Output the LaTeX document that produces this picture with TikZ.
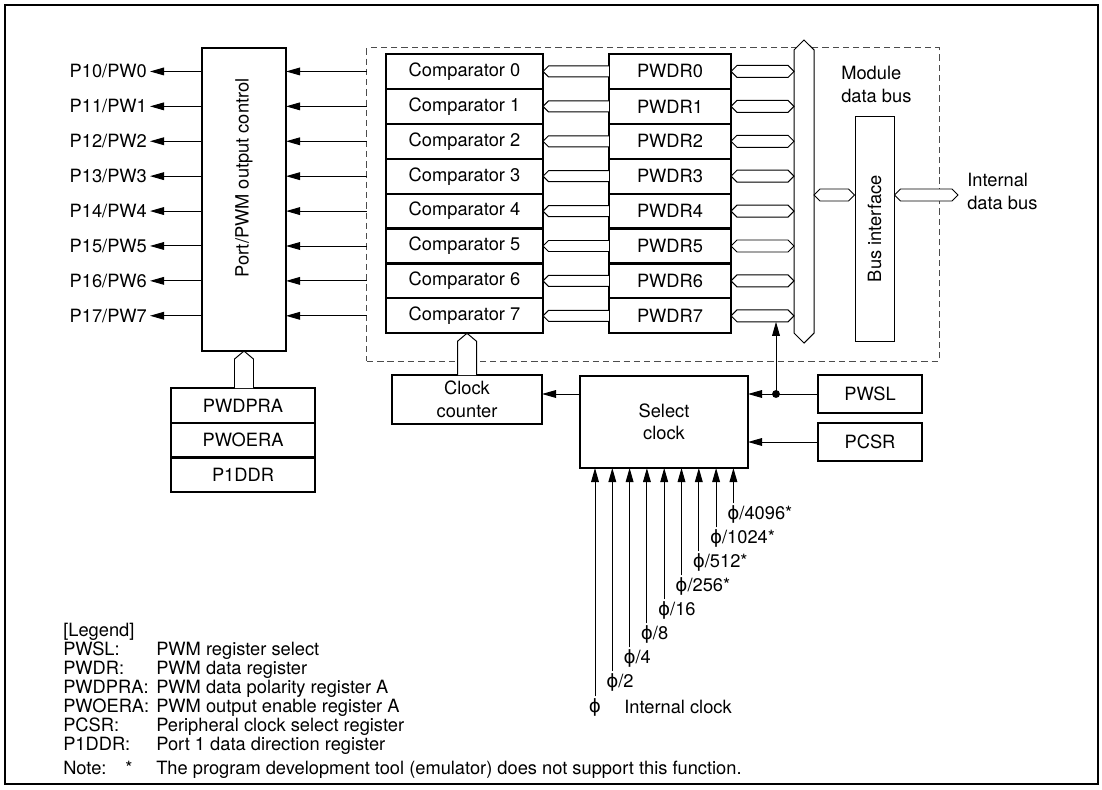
\documentclass[tikz,border=0pt]{standalone}
\usepackage{fontspec}
\setmainfont{TeX Gyre Heros}
\newfontfamily\phifont{DejaVu Sans}
\usepackage{tikz}
\usetikzlibrary{arrows.meta,positioning,calc}
\newcommand{\clkphi}{{\phifont\symbol{"03D5}}}

\begin{document}
\begin{tikzpicture}[x=0.025cm, y=-0.025cm, >={Triangle[length=10pt,width=5.5pt]},
  font=\fontsize{13}{16}\selectfont,
  block/.style={draw, line width=1.6pt, rectangle, inner sep=0pt, outer sep=0pt, align=center},
  cmp/.style={block, minimum width=3.925cm, minimum height=0.8725cm},
  reg/.style={block, minimum width=3.05cm, minimum height=0.8725cm},
  ctl/.style={block, minimum width=3.6cm, minimum height=0.8675cm},
  sel/.style={block, minimum width=2.6cm, minimum height=0.95cm},
  modbox/.style={draw=black!70, dash pattern=on 4.5pt off 2.8pt, line width=0.7pt, rectangle, inner sep=0pt, outer sep=0pt},
  pinlbl/.style={anchor=east, inner sep=2pt},
  clk/.style={inner sep=1pt},
  jdot/.style={circle, fill, inner sep=0pt, minimum size=5.6pt},
  line/.style={draw, ->, line width=0.7pt},
  bus/.style={draw, fill=white, line width=0.7pt},
  busleft/.style={bus, to path={($(\tikztotarget)+(0,-5.5)$) -- ($(\tikztostart)+(5.5,-5.5)$) -- (\tikztostart) -- ($(\tikztostart)+(5.5,5.5)$) -- ($(\tikztotarget)+(0,5.5)$)}},
  busboth/.style={bus, to path={-- ($(\tikztostart)+(6,-6)$) -- ($(\tikztotarget)+(-6,-6)$) -- (\tikztotarget) -- ($(\tikztotarget)+(-6,6)$) -- ($(\tikztostart)+(6,6)$) -- cycle}},
  busup/.style={bus, to path={($(\tikztostart)+(-9.5,0)$) -- ($(\tikztotarget)+(-9.5,8)$) -- (\tikztotarget) -- ($(\tikztotarget)+(9.5,8)$) -- ($(\tikztostart)+(9.5,0)$)}}
]
  \useasboundingbox (0,0) rectangle (1102,789);
  \draw[line width=1.6pt] (5,5) rectangle (1098,784);

  % Port/PWM output control
  \node[block, minimum width=2.1cm, minimum height=7.575cm] (portctl) at (244,199.5) {};
  \node[rotate=90] (portlbl) at (244,178) {Port/PWM output control};

  % PWM module (dashed)
  \node[modbox, minimum width=14.3cm, minimum height=7.825cm] (module) at (653,204.5) {};

  % Comparators
  \node[cmp] (cmp0) at (464.5,71.45) {Comparator 0};
  \node[cmp, below=0pt of cmp0] (cmp1) {Comparator 1};
  \node[cmp, below=0pt of cmp1] (cmp2) {Comparator 2};
  \node[cmp, below=0pt of cmp2] (cmp3) {Comparator 3};
  \node[cmp, below=0pt of cmp3] (cmp4) {Comparator 4};
  \node[cmp, below=0pt of cmp4] (cmp5) {Comparator 5};
  \node[cmp, below=0pt of cmp5] (cmp6) {Comparator 6};
  \node[cmp, below=0pt of cmp6] (cmp7) {Comparator 7};

  % Data registers
  \node[reg] (pwdr0) at (670,71.45) {PWDR0};
  \node[reg, below=0pt of pwdr0] (pwdr1) {PWDR1};
  \node[reg, below=0pt of pwdr1] (pwdr2) {PWDR2};
  \node[reg, below=0pt of pwdr2] (pwdr3) {PWDR3};
  \node[reg, below=0pt of pwdr3] (pwdr4) {PWDR4};
  \node[reg, below=0pt of pwdr4] (pwdr5) {PWDR5};
  \node[reg, below=0pt of pwdr5] (pwdr6) {PWDR6};
  \node[reg, below=0pt of pwdr6] (pwdr7) {PWDR7};

  % Module data bus and bus interface
  \node[inner sep=0pt, outer sep=0pt, minimum width=0.5cm, minimum height=7.575cm] (mdb) at (804,191.5) {};
  \draw[bus] (mdb.north) -- ($(mdb.north east)+(0,10)$) -- ($(mdb.south east)+(0,-10)$) -- (mdb.south) -- ($(mdb.south west)+(0,-10)$) -- ($(mdb.north west)+(0,10)$) -- cycle;
  \node[anchor=west, align=left, inner sep=0pt] (mdblbl) at (841,84.5) {Module\\data bus};
  \node[draw, line width=0.7pt, rotate=90, inner sep=0pt, minimum width=5.625cm, minimum height=0.975cm] (businf) at (874.5,228.75) {Bus interface};
  \coordinate (busrow) at (0,195);
  \coordinate (intbus) at (958,195);
  \node[anchor=west, align=left, inner sep=0pt] (intlbl) at (967,191.5) {Internal\\data bus};

  % Output pins
  \node[pinlbl] (pw0) at (150,71.45) {P10/PW0};
  \node[pinlbl] (pw1) at (150,106.35) {P11/PW1};
  \node[pinlbl] (pw2) at (150,141.25) {P12/PW2};
  \node[pinlbl] (pw3) at (150,176.15) {P13/PW3};
  \node[pinlbl] (pw4) at (150,211.05) {P14/PW4};
  \node[pinlbl] (pw5) at (150,245.95) {P15/PW5};
  \node[pinlbl] (pw6) at (150,280.85) {P16/PW6};
  \node[pinlbl] (pw7) at (150,315.75) {P17/PW7};

  % Port control registers
  \node[ctl] (pwdpra) at (243,405.35) {PWDPRA};
  \node[ctl, below=0pt of pwdpra] (pwoera) {PWOERA};
  \node[ctl, below=0pt of pwoera] (p1ddr) {P1DDR};

  % Clock section
  \node[block, minimum width=3.75cm, minimum height=1.225cm] (ccount) at (467,399.5) {Clock\\counter};
  \node[block, minimum width=4.2cm, minimum height=2.3cm] (selclk) at (664,422) {Select\\clock};
  \node[sel] (pwsl) at (870,394) {PWSL};
  \node[sel] (pcsr) at (870,442) {PCSR};
  \node[jdot] (jn) at (776,394) {};

  % Clock sources
  \node[clk] (f0) at (595,707) {\clkphi};
  \node[clk] (f1) at (612.3,682) {\clkphi\rlap{/2}};
  \node[clk] (f2) at (629.6,658) {\clkphi\rlap{/4}};
  \node[clk] (f3) at (646.9,634) {\clkphi\rlap{/8}};
  \node[clk] (f4) at (664.2,610) {\clkphi\rlap{/16}};
  \node[clk] (f5) at (681.5,586) {\clkphi\rlap{/256*}};
  \node[clk] (f6) at (698.8,562) {\clkphi\rlap{/512*}};
  \node[clk] (f7) at (716.1,538) {\clkphi\rlap{/1024*}};
  \node[clk] (f8) at (733.4,514) {\clkphi\rlap{/4096*}};
  \node[anchor=west, inner sep=0pt] (intclk) at (624,707) {Internal clock};

  % Legend
  \node[anchor=north west, inner sep=0pt, font=\fontsize{13}{13}\selectfont] (legend) at (63,623) {%
    \begin{tabular}{@{}l@{\hspace{5pt}}l@{}}
      \multicolumn{2}{@{}l}{[Legend]}\\
      PWSL: & PWM register select\\
      PWDR: & PWM data register\\
      PWDPRA: & PWM data polarity register A\\
      PWOERA: & PWM output enable register A\\
      PCSR: & Peripheral clock select register\\
      P1DDR: & Port 1 data direction register\\[4pt]
      Note: & \llap{*\hspace{17pt}}The program development tool (emulator) does not support this function.
    \end{tabular}};

  % Output connections
  \draw[line] (portctl.west |- pw0) -- (pw0.east);
  \draw[line] (portctl.west |- pw1) -- (pw1.east);
  \draw[line] (portctl.west |- pw2) -- (pw2.east);
  \draw[line] (portctl.west |- pw3) -- (pw3.east);
  \draw[line] (portctl.west |- pw4) -- (pw4.east);
  \draw[line] (portctl.west |- pw5) -- (pw5.east);
  \draw[line] (portctl.west |- pw6) -- (pw6.east);
  \draw[line] (portctl.west |- pw7) -- (pw7.east);

  % Comparator outputs
  \draw[line] (module.west |- cmp0) -- (portctl.east |- cmp0);
  \draw[line] (module.west |- cmp1) -- (portctl.east |- cmp1);
  \draw[line] (module.west |- cmp2) -- (portctl.east |- cmp2);
  \draw[line] (module.west |- cmp3) -- (portctl.east |- cmp3);
  \draw[line] (module.west |- cmp4) -- (portctl.east |- cmp4);
  \draw[line] (module.west |- cmp5) -- (portctl.east |- cmp5);
  \draw[line] (module.west |- cmp6) -- (portctl.east |- cmp6);
  \draw[line] (module.west |- cmp7) -- (portctl.east |- cmp7);

  % Register to comparator buses
  \draw[busleft] (cmp0.east) to (pwdr0.west);
  \draw[busleft] (cmp1.east) to (pwdr1.west);
  \draw[busleft] (cmp2.east) to (pwdr2.west);
  \draw[busleft] (cmp3.east) to (pwdr3.west);
  \draw[busleft] (cmp4.east) to (pwdr4.west);
  \draw[busleft] (cmp5.east) to (pwdr5.west);
  \draw[busleft] (cmp6.east) to (pwdr6.west);
  \draw[busleft] (cmp7.east) to (pwdr7.west);

  % Register to module bus
  \draw[busboth] (pwdr0.east) to (mdb.west |- pwdr0.east);
  \draw[busboth] (pwdr1.east) to (mdb.west |- pwdr1.east);
  \draw[busboth] (pwdr2.east) to (mdb.west |- pwdr2.east);
  \draw[busboth] (pwdr3.east) to (mdb.west |- pwdr3.east);
  \draw[busboth] (pwdr4.east) to (mdb.west |- pwdr4.east);
  \draw[busboth] (pwdr5.east) to (mdb.west |- pwdr5.east);
  \draw[busboth] (pwdr6.east) to (mdb.west |- pwdr6.east);
  \draw[busboth] (pwdr7.east) to (mdb.west |- pwdr7.east);
  \draw[busboth] (mdb.east |- busrow) to (businf.north |- busrow);
  \draw[busboth] (businf.south |- busrow) to (intbus);

  % Counter and control buses
  \draw[busup] (ccount.north) to (ccount.north |- cmp7.south);
  \draw[busup] (portctl.south |- pwdpra.north) to (portctl.south);

  % Clock control
  \draw[line] (pwsl.west) -- (selclk.east |- pwsl.west);
  \draw[line] (jn.center) -- ($(jn |- pwdr7.east)+(0,6)$);
  \draw[line] (pcsr.west) -- (selclk.east |- pcsr.west);
  \draw[line] (selclk.west |- jn) -- (ccount.east |- jn);

  % Clock inputs
  \draw[line] (f0) -- (f0 |- selclk.south);
  \draw[line] (f1) -- (f1 |- selclk.south);
  \draw[line] (f2) -- (f2 |- selclk.south);
  \draw[line] (f3) -- (f3 |- selclk.south);
  \draw[line] (f4) -- (f4 |- selclk.south);
  \draw[line] (f5) -- (f5 |- selclk.south);
  \draw[line] (f6) -- (f6 |- selclk.south);
  \draw[line] (f7) -- (f7 |- selclk.south);
  \draw[line] (f8) -- (f8 |- selclk.south);

\end{tikzpicture}
\end{document}
